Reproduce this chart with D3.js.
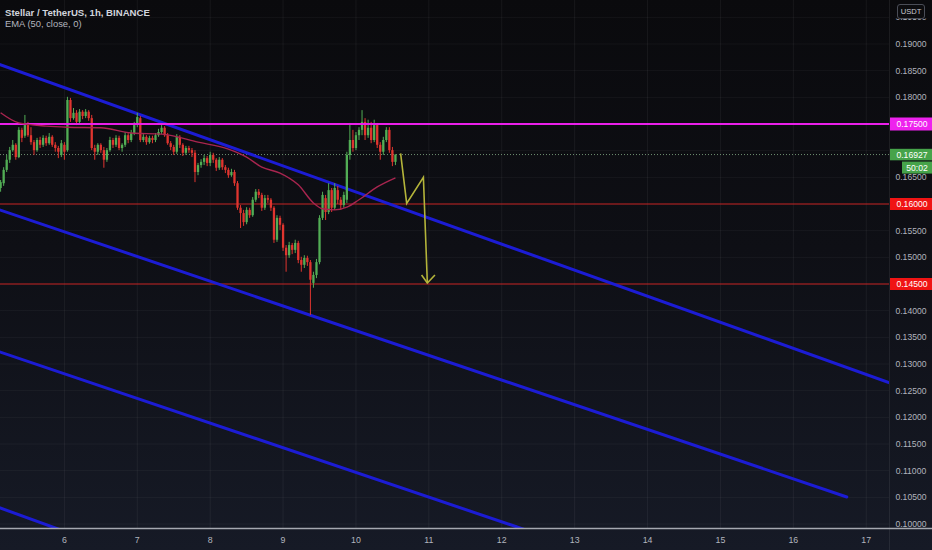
<!DOCTYPE html>
<html><head><meta charset="utf-8">
<script src="https://cdn.jsdelivr.net/npm/d3@7"></script>
<style>html,body{margin:0;padding:0;background:#0c0c0f;}svg{display:block}</style>
</head><body>
<svg id="chart" width="932" height="550"></svg>
<script>
// ---------- DATA ----------
const titleText = "Stellar / TetherUS, 1h, BINANCE";
const indicatorText = "EMA (50, close, 0)";
const quoteUnit = "USDT";
const dayLabels = [6,7,8,9,10,11,12,13,14,15,16,17];
const priceTicks = [0.100,0.105,0.110,0.115,0.120,0.125,0.130,0.135,0.140,0.145,0.150,0.155,0.160,0.165,0.170,0.175,0.180,0.185,0.190,0.195];
// hours relative to day 10 00:00
const firstCandleHour = -118;
const candleOpen = [
.1654,.1630,.1639,.1664,.1683,.1701,.1711,.1688,.1739,.1728,
.1748,.1729,.1716,.1701,.1720,.1711,.1724,.1714,.1726,.1711,
.1705,.1692,.1711,.1701,.1795,.1761,.1771,.1754,.1773,.1765,
.1773,.1761,.1705,.1698,.1711,.1701,.1683,.1701,.1720,.1711,
.1724,.1705,.1711,.1729,.1720,.1733,.1748,.1761,.1720,.1726,
.1716,.1724,.1720,.1729,.1735,.1743,.1729,.1714,.1707,.1698,
.1726,.1711,.1696,.1705,.1701,.1696,.1660,.1673,.1679,.1686,
.1677,.1692,.1683,.1668,.1683,.1669,.1664,.1654,.1660,.1639,
.1593,.1583,.1566,.1589,.1579,.1608,.1623,.1617,.1593,.1611,
.1608,.1593,.1533,.1574,.1561,.1518,.1504,.1523,.1514,.1527,
.1495,.1486,.1499,.1491,.1452,.1467,.1491,.1574,.1611,.1585,
.1626,.1593,.1626,.1608,.1598,.1608,.1692,.1720,.1705,.1729,
.1739,.1754,.1729,.1743,.1720,.1748,.1711,.1698,.1720,.1739,
.1701,.1679];
const candleHigh = [
.1664,.1645,.1669,.1692,.1707,.1720,.1714,.1744,.1743,.1767,
.1754,.1744,.1720,.1724,.1726,.1729,.1728,.1733,.1729,.1716,
.1709,.1720,.1716,.1801,.1799,.1780,.1776,.1778,.1776,.1778,
.1776,.1767,.1711,.1714,.1714,.1707,.1705,.1726,.1724,.1729,
.1728,.1714,.1735,.1733,.1739,.1754,.1771,.1765,.1731,.1729,
.1728,.1728,.1733,.1741,.1748,.1746,.1733,.1718,.1711,.1731,
.1729,.1714,.1709,.1709,.1705,.1701,.1677,.1684,.1692,.1690,
.1698,.1696,.1686,.1688,.1686,.1673,.1668,.1666,.1664,.1643,
.1598,.1589,.1594,.1593,.1613,.1628,.1628,.1621,.1617,.1617,
.1611,.1596,.1579,.1578,.1564,.1523,.1529,.1527,.1533,.1531,
.1501,.1504,.1503,.1495,.1473,.1497,.1579,.1623,.1617,.1639,
.1630,.1639,.1634,.1613,.1623,.1698,.1752,.1739,.1735,.1744,
.1776,.1761,.1758,.1754,.1758,.1752,.1716,.1726,.1744,.1744,
.1707,.1693];
const candleLow = [
.1623,.1623,.1634,.1660,.1677,.1698,.1683,.1686,.1716,.1724,
.1726,.1711,.1692,.1698,.1705,.1707,.1709,.1711,.1707,.1698,
.1686,.1688,.1683,.1698,.1754,.1758,.1748,.1750,.1759,.1761,
.1756,.1701,.1683,.1692,.1696,.1668,.1679,.1698,.1705,.1707,
.1701,.1698,.1707,.1714,.1716,.1729,.1744,.1716,.1716,.1711,
.1713,.1714,.1716,.1726,.1731,.1726,.1711,.1701,.1692,.1694,
.1705,.1690,.1692,.1696,.1688,.1641,.1654,.1668,.1673,.1671,
.1671,.1677,.1662,.1664,.1664,.1658,.1649,.1651,.1634,.1589,
.1555,.1559,.1562,.1574,.1576,.1604,.1611,.1587,.1589,.1602,
.1587,.1527,.1529,.1551,.1512,.1473,.1499,.1506,.1508,.1489,
.1473,.1480,.1484,.1392,.1443,.1461,.1487,.1570,.1570,.1581,
.1585,.1589,.1600,.1589,.1593,.1602,.1683,.1698,.1701,.1720,
.1729,.1720,.1724,.1714,.1716,.1705,.1683,.1692,.1716,.1696,
.1671,.1673];
const candleClose = [
.1630,.1641,.1664,.1683,.1701,.1711,.1688,.1739,.1724,.1748,
.1729,.1716,.1701,.1720,.1711,.1724,.1714,.1726,.1711,.1705,
.1698,.1714,.1698,.1795,.1761,.1771,.1754,.1773,.1765,.1773,
.1761,.1705,.1698,.1711,.1701,.1683,.1701,.1720,.1711,.1724,
.1705,.1711,.1729,.1720,.1733,.1748,.1763,.1720,.1726,.1716,
.1724,.1720,.1729,.1735,.1743,.1729,.1714,.1707,.1698,.1726,
.1711,.1696,.1705,.1701,.1696,.1660,.1673,.1679,.1686,.1677,
.1692,.1683,.1668,.1683,.1669,.1664,.1654,.1660,.1639,.1593,
.1583,.1566,.1589,.1579,.1608,.1623,.1617,.1593,.1611,.1608,
.1593,.1533,.1574,.1561,.1518,.1504,.1523,.1514,.1527,.1495,
.1486,.1499,.1491,.1458,.1467,.1491,.1574,.1617,.1585,.1626,
.1593,.1630,.1608,.1598,.1617,.1692,.1720,.1705,.1729,.1739,
.1754,.1729,.1743,.1720,.1748,.1711,.1698,.1720,.1739,.1701,
.1679,.16927];
// EMA(50): [hour, price]
const emaHours  = [-117,-111,-102,-95,-84,-74,-64,-52,-42,-36,-31,-25,-19,-14,-11,-7,-3,1,7,13];
const emaValues = [.1771,.1752,.1746,.1744,.1743,.1733,.1731,.1716,.1703,.1688,.1669,.1658,.1636,.1602,.1591,.1589,.1594,.1608,.1632,.1649];
// channel lines: [hourStart, priceStart, hourEnd, priceEnd]
const channelLines = [
  [-120, 0.1867, 180, 0.1256],
  [-120, 0.15942, 161.6, 0.10506],
  [-120, 0.13279, 60, 0.0981],
  [-120, 0.1036, -90, 0.0974]
];
// horizontal levels
const levelMagenta = 0.175;
const levelsRed = [0.160, 0.145];
const lastPrice = 0.16927;
const countdown = "50:02";
// projected path [hour, price]
const projHours  = [14.7, 16.7, 22.2, 23.5];
const projPrices = [0.1695, 0.1601, 0.1650, 0.1452];
const arrowHours = [21.6, 23.5, 26.0];
const arrowPrices = [0.1467, 0.1452, 0.1467];

// ---------- LAYOUT ----------
const W = 932, H = 550, plotW = 889, plotH = 528;
const svg = d3.select("#chart");
const x = d3.scaleLinear().domain([-117.2, 175.5]).range([0, plotW]);
const y = d3.scaleLinear().domain([0.09925, 0.19825]).range([plotH, 0]);

const defs = svg.append("defs");
const grad = defs.append("linearGradient").attr("id","bg").attr("x1",0).attr("y1",0).attr("x2",0).attr("y2",1);
grad.append("stop").attr("offset","0%").attr("stop-color","#0a0a0d");
grad.append("stop").attr("offset","45%").attr("stop-color","#0e0f15");
grad.append("stop").attr("offset","100%").attr("stop-color","#161a26");
defs.append("clipPath").attr("id","clip").append("rect").attr("x",0).attr("y",0).attr("width",plotW).attr("height",plotH);
defs.append("clipPath").attr("id","clipTop").append("rect").attr("x",890).attr("y",18.5).attr("width",42).attr("height",10);

svg.append("rect").attr("width",W).attr("height",H).attr("fill","url(#bg)");

// grid
const grid = svg.append("g").attr("clip-path","url(#clip)");
grid.selectAll("line.v").data(dayLabels).join("line")
  .attr("x1",d=>x((d-10)*24)).attr("x2",d=>x((d-10)*24)).attr("y1",0).attr("y2",plotH)
  .attr("stroke","#ffffff").attr("stroke-opacity",0.055).attr("stroke-width",1);
grid.selectAll("line.h").data(priceTicks).join("line")
  .attr("x1",0).attr("x2",plotW).attr("y1",d=>y(d)).attr("y2",d=>y(d))
  .attr("stroke","#ffffff").attr("stroke-opacity",0.045).attr("stroke-width",1);

const plot = svg.append("g").attr("clip-path","url(#clip)");

// levels
plot.append("line").attr("x1",0).attr("x2",plotW).attr("y1",y(lastPrice)).attr("y2",y(lastPrice))
  .attr("stroke","#6f8f72").attr("stroke-width",1).attr("stroke-dasharray","1,2");
levelsRed.forEach(v=>{
  plot.append("line").attr("x1",0).attr("x2",plotW).attr("y1",y(v)).attr("y2",y(v))
    .attr("stroke","#c42020").attr("stroke-width",1.2);
});

// channel lines
plot.selectAll("line.ch").data(channelLines).join("line")
  .attr("x1",d=>x(d[0])).attr("y1",d=>y(d[1])).attr("x2",d=>x(d[2])).attr("y2",d=>y(d[3]))
  .attr("stroke","#1c1cd4").attr("stroke-width",3).attr("stroke-linecap","round");

// candles
const candles = candleOpen.map((o,i)=>({h:firstCandleHour+i,o,hi:candleHigh[i],lo:candleLow[i],c:candleClose[i]}));
const cg = plot.append("g");
const upC = "#52ad55", dnC = "#e0352f";
cg.selectAll("line.w").data(candles).join("line")
  .attr("x1",d=>x(d.h)).attr("x2",d=>x(d.h)).attr("y1",d=>y(d.hi)).attr("y2",d=>y(d.lo))
  .attr("stroke",d=>d.c>=d.o?upC:dnC).attr("stroke-width",1);
cg.selectAll("rect.b").data(candles).join("rect")
  .attr("x",d=>x(d.h)-1.15).attr("width",2.3)
  .attr("y",d=>y(Math.max(d.o,d.c))).attr("height",d=>Math.max(1,Math.abs(y(d.o)-y(d.c))))
  .attr("fill",d=>d.c>=d.o?upC:dnC);

// magenta level (drawn over candles)
plot.append("line").attr("x1",0).attr("x2",plotW).attr("y1",y(levelMagenta)).attr("y2",y(levelMagenta))
  .attr("stroke","#ea1fea").attr("stroke-width",2);

// EMA
const emaPts = emaHours.map((h,i)=>[h,emaValues[i]]);
plot.append("path").datum(emaPts)
  .attr("d",d3.line().x(d=>x(d[0])).y(d=>y(d[1])).curve(d3.curveMonotoneX))
  .attr("fill","none").attr("stroke","#a8254f").attr("stroke-width",1.4);

// projection
const projPts = projHours.map((h,i)=>[h,projPrices[i]]);
const arrowPts = arrowHours.map((h,i)=>[h,arrowPrices[i]]);
const ln = d3.line().x(d=>x(d[0])).y(d=>y(d[1]));
plot.append("path").datum(projPts).attr("d",ln).attr("fill","none").attr("stroke","#b4b43a").attr("stroke-width",1.6);
plot.append("path").datum(arrowPts).attr("d",ln).attr("fill","none").attr("stroke","#b4b43a").attr("stroke-width",1.6);

// axes separators
svg.append("line").attr("x1",plotW+0.5).attr("x2",plotW+0.5).attr("y1",0).attr("y2",H)
  .attr("stroke","#ffffff").attr("stroke-opacity",0.07);
svg.append("line").attr("x1",0).attr("x2",W).attr("y1",plotH+0.5).attr("y2",plotH+0.5)
  .attr("stroke","#a5a8b0").attr("stroke-width",1.5);

// price axis labels (those hidden under the tags in the reference are skipped)
const fontAxis = "'Liberation Sans', Arial, sans-serif";
const hidden = [levelMagenta, lastPrice, ...levelsRed];
const visibleTicks = priceTicks.filter(t => !hidden.some(h => Math.abs(y(h)-y(t)) < 8));
const axisG = svg.append("g");
axisG.selectAll("text").data(visibleTicks).join("text")
  .attr("x",911).attr("y",d=>y(d)).attr("dy","0.35em").attr("text-anchor","middle")
  .attr("fill","#b2b5be").attr("font-family",fontAxis).attr("font-size",8.6)
  .attr("clip-path",d=>y(d)<22?"url(#clipTop)":null)
  .text(d=>d3.format(".5f")(d));

// day labels
svg.append("g").selectAll("text").data(dayLabels).join("text")
  .attr("x",d=>x((d-10)*24)).attr("y",543).attr("text-anchor","middle")
  .attr("fill","#b2b5be").attr("font-family",fontAxis).attr("font-size",8.8)
  .text(d=>d);

// highlight price labels
function tag(val, color, text, x0, h){
  const cy = y(val);
  svg.append("rect").attr("x",x0).attr("y",cy-h/2).attr("width",W-x0).attr("height",h).attr("fill",color);
  svg.append("text").attr("x",(x0+W)/2+1).attr("y",cy).attr("dy","0.36em").attr("text-anchor","middle")
    .attr("fill","#ffffff").attr("font-family",fontAxis).attr("font-size",8.6).text(text);
}
tag(levelMagenta,"#ee22ee",d3.format(".5f")(levelMagenta),890,13);
levelsRed.forEach(v=>tag(v,"#f01414",d3.format(".5f")(v),890,12));
tag(lastPrice,"#46a34a",d3.format(".5f")(lastPrice),890,11.5);
// countdown box under last price
{
  const cy = y(lastPrice)+13;
  svg.append("rect").attr("x",902).attr("y",cy-6).attr("width",W-902).attr("height",12).attr("fill","#46a34a");
  svg.append("text").attr("x",917).attr("y",cy).attr("dy","0.36em").attr("text-anchor","middle")
    .attr("fill","#ffffff").attr("font-family",fontAxis).attr("font-size",8.6).text(countdown);
}

// USDT box
svg.append("rect").attr("x",897.5).attr("y",4.5).attr("width",27).attr("height",14).attr("rx",2.5)
  .attr("fill","#0c0c0f").attr("stroke","#4a4d57").attr("stroke-width",1);
svg.append("text").attr("x",911).attr("y",11.7).attr("dy","0.35em").attr("text-anchor","middle")
  .attr("fill","#c8cad0").attr("font-family",fontAxis).attr("font-size",7.6).text(quoteUnit);

// title / legend
svg.append("text").attr("x",5).attr("y",15.5).attr("fill","#d1d4dc")
  .attr("font-family",fontAxis).attr("font-size",9.6).attr("font-weight","bold").text(titleText);
svg.append("text").attr("x",5).attr("y",26.5).attr("fill","#b2b5be")
  .attr("font-family",fontAxis).attr("font-size",9.4).text(indicatorText);
</script>
</body></html>
